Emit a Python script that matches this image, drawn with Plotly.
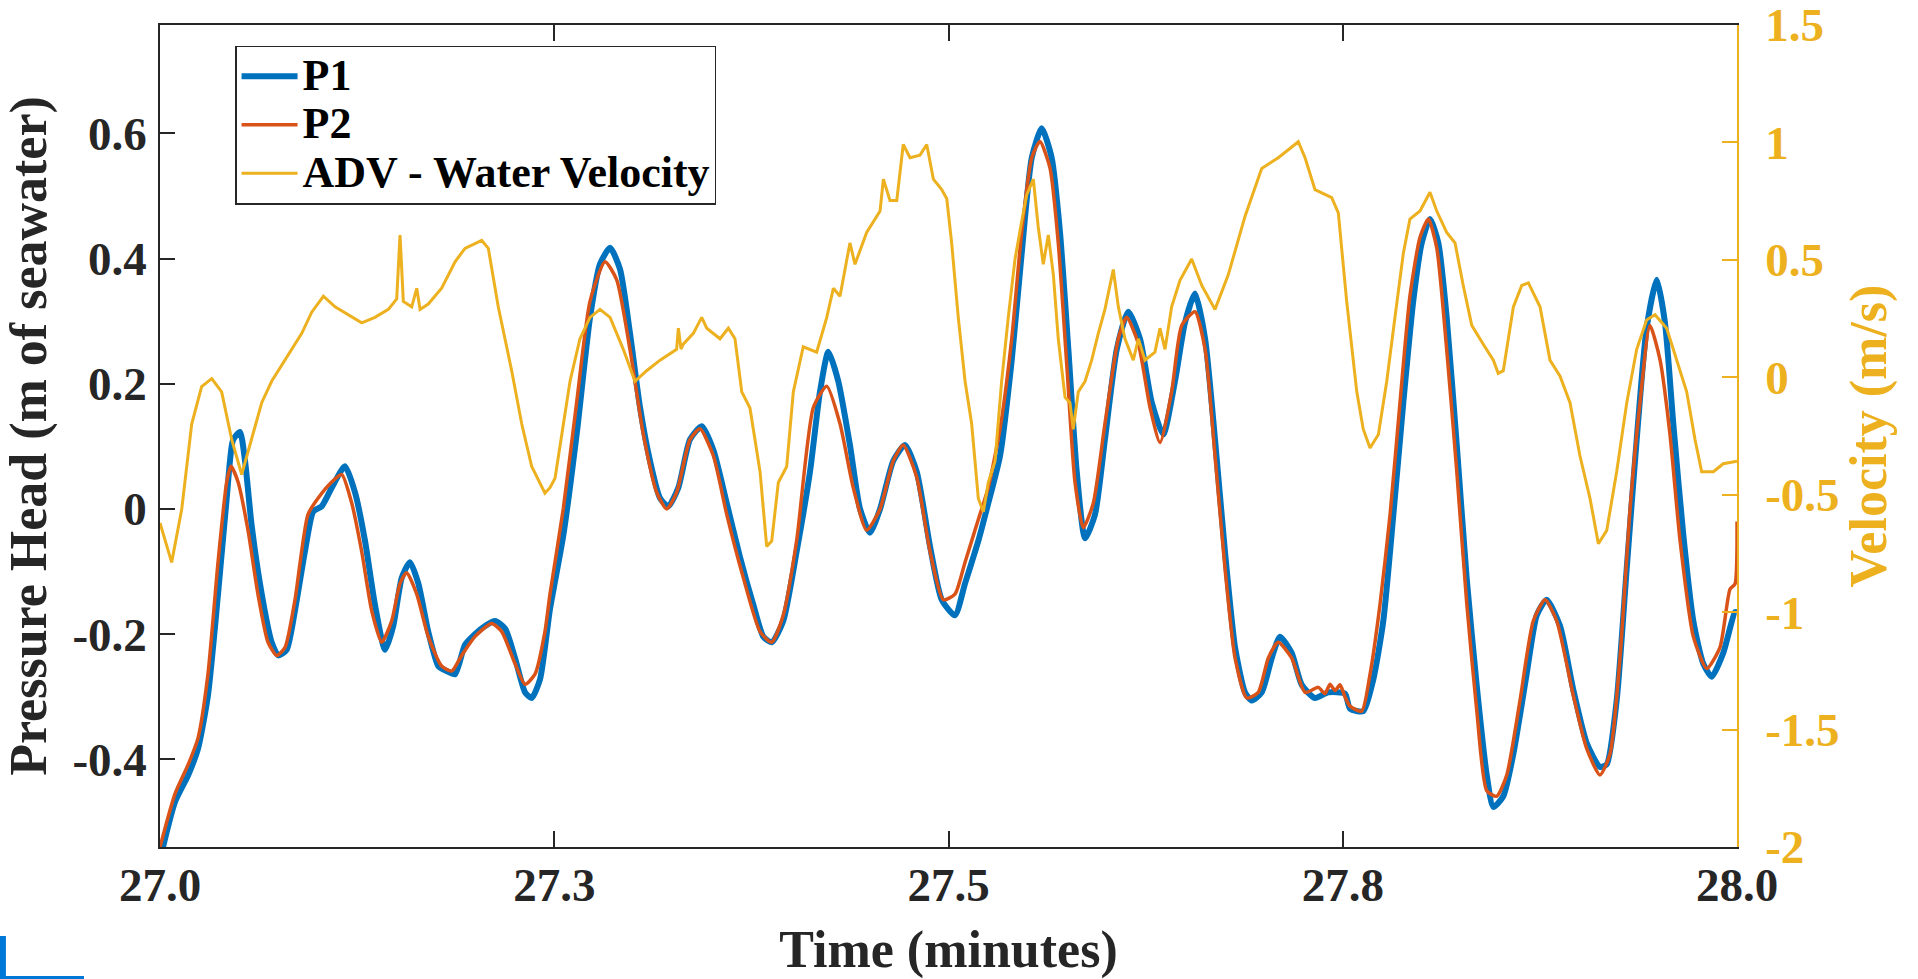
import plotly.graph_objects as go

# ---------------- data ----------------
t_p1 = [27.0000, 27.0095, 27.0179, 27.0241, 27.0304, 27.0368, 27.0423, 27.0463, 27.0507, 27.0539,
        27.0581, 27.0645, 27.0708, 27.0750, 27.0803, 27.0856, 27.0919, 27.0972, 27.1025, 27.1089,
        27.1173, 27.1237, 27.1300, 27.1363, 27.1427, 27.1479, 27.1533, 27.1585, 27.1638, 27.1701,
        27.1765, 27.1818, 27.1871, 27.1934, 27.1997, 27.2061, 27.2124, 27.2188, 27.2251, 27.2315,
        27.2357, 27.2410,
        27.2473, 27.2557, 27.2642, 27.2727, 27.2790, 27.2854, 27.2917, 27.2980, 27.3044, 27.3107,
        27.3171, 27.3223, 27.3287, 27.3361, 27.3435, 27.3509, 27.3594, 27.3678, 27.3762, 27.3826,
        27.3879, 27.3952, 27.4037, 27.4122, 27.4185, 27.4238, 27.4301, 27.4375, 27.4439, 27.4502,
        27.4566, 27.4650, 27.4724, 27.4798, 27.4883, 27.4957,
        27.5041, 27.5105, 27.5189, 27.5252, 27.5327, 27.5401, 27.5464, 27.5528, 27.5591, 27.5654,
        27.5707, 27.5760, 27.5813, 27.5866, 27.5929, 27.5992, 27.6067, 27.6140, 27.6214, 27.6289,
        27.6362, 27.6436, 27.6500, 27.6563, 27.6627, 27.6690, 27.6753, 27.6817, 27.6880, 27.6923,
        27.6986, 27.7050, 27.7102, 27.7176, 27.7240, 27.7324, 27.7408,
        27.7514, 27.7546, 27.7630, 27.7694, 27.7757, 27.7821, 27.7884, 27.7947, 27.8001, 27.8053,
        27.8106, 27.8159, 27.8223, 27.8286, 27.8349, 27.8413, 27.8455, 27.8518, 27.8582, 27.8666,
        27.8730, 27.8793, 27.8878, 27.8962, 27.9047, 27.9131, 27.9174, 27.9237, 27.9301, 27.9364,
        27.9427, 27.9491, 27.9543, 27.9596, 27.9660, 27.9723, 27.9786, 27.9840, 27.9913, 27.9987,
        28.0000]
p1 = [-0.56, -0.468, -0.425, -0.383, -0.298, -0.136, 0.017, 0.11, 0.123, 0.077,
      -0.026, -0.136, -0.213, -0.234, -0.225, -0.162, -0.068, -0.004, 0.004, 0.034,
      0.068, 0.026, -0.051, -0.153, -0.225, -0.187, -0.11, -0.085, -0.119, -0.196,
      -0.251, -0.259, -0.264, -0.217, -0.2, -0.187, -0.179, -0.191, -0.238, -0.293,
      -0.302, -0.272,
      -0.16, -0.043, 0.119, 0.306, 0.391, 0.417, 0.383, 0.281, 0.162, 0.077,
      0.017, 0.004, 0.034, 0.111, 0.132, 0.094, 0.009, -0.077, -0.153, -0.204,
      -0.213, -0.179, -0.068, 0.06, 0.187, 0.251, 0.204, 0.102, 0.0, -0.038,
      0.0, 0.077, 0.102, 0.06, -0.06, -0.145,
      -0.17, -0.119, -0.051, 0.009, 0.085, 0.238, 0.408, 0.561, 0.608, 0.561,
      0.442, 0.255, 0.06, -0.047, -0.009, 0.111, 0.255, 0.315, 0.272, 0.17,
      0.119, 0.204, 0.298, 0.344, 0.272, 0.111, -0.068, -0.221, -0.293, -0.306,
      -0.293, -0.238, -0.204, -0.23, -0.281, -0.302, -0.293,
      -0.295, -0.319, -0.323, -0.272, -0.179, -0.009, 0.17, 0.332, 0.425, 0.463,
      0.425, 0.306, 0.102, -0.111, -0.281, -0.425, -0.476, -0.459, -0.391, -0.264,
      -0.17, -0.145, -0.187, -0.289, -0.374, -0.412, -0.408, -0.306, -0.094, 0.111,
      0.289, 0.366, 0.298, 0.136, -0.043, -0.179, -0.247, -0.268, -0.23, -0.165,
      -0.165]

t_p2 = [27.0000, 27.0095, 27.0179, 27.0241, 27.0304, 27.0368, 27.0423, 27.0450, 27.0495, 27.0558,
        27.0621, 27.0685, 27.0740, 27.0793, 27.0856, 27.0938, 27.1002, 27.1089, 27.1152, 27.1216,
        27.1279, 27.1342, 27.1406, 27.1469, 27.1522, 27.1564, 27.1628, 27.1701, 27.1786, 27.1850,
        27.1913, 27.1997, 27.2103, 27.2167, 27.2251, 27.2315, 27.2378, 27.2441,
        27.2473, 27.2557, 27.2642, 27.2727, 27.2822, 27.2896, 27.2980, 27.3065, 27.3150, 27.3213,
        27.3276, 27.3361, 27.3424, 27.3509, 27.3594, 27.3699, 27.3805, 27.3879, 27.3952, 27.4037,
        27.4143, 27.4228, 27.4312, 27.4396, 27.4481, 27.4566, 27.4650, 27.4713, 27.4798, 27.4883,
        27.4967,
        27.5041, 27.5105, 27.5189, 27.5252, 27.5327, 27.5401, 27.5464, 27.5528, 27.5580, 27.5644,
        27.5696, 27.5750, 27.5802, 27.5855, 27.5918, 27.5992, 27.6077, 27.6130, 27.6204, 27.6278,
        27.6341, 27.6415, 27.6479, 27.6563, 27.6627, 27.6690, 27.6753, 27.6817, 27.6891, 27.6964,
        27.7028, 27.7091, 27.7176, 27.7261, 27.7345, 27.7387, 27.7419, 27.7451, 27.7483, 27.7514,
        27.7546, 27.7620, 27.7673, 27.7736, 27.7800, 27.7863, 27.7926, 27.7990, 27.8043, 27.8096,
        27.8159, 27.8223, 27.8286, 27.8349, 27.8413, 27.8476, 27.8540, 27.8624, 27.8708, 27.8783,
        27.8857, 27.8962, 27.9047, 27.9131, 27.9195, 27.9258, 27.9322, 27.9385, 27.9448, 27.9512,
        27.9575, 27.9639, 27.9723, 27.9808, 27.9892, 27.9956, 27.9987, 28.0000]
p2 = [-0.54, -0.455, -0.408, -0.366, -0.264, -0.085, 0.043, 0.068, 0.043, -0.034,
      -0.136, -0.213, -0.234, -0.221, -0.145, -0.009, 0.017, 0.043, 0.055, 0.009,
      -0.068, -0.162, -0.213, -0.179, -0.119, -0.102, -0.136, -0.204, -0.251, -0.259,
      -0.234, -0.204, -0.183, -0.196, -0.247, -0.28, -0.264, -0.196,
      -0.136, 0.0, 0.17, 0.332, 0.395, 0.366, 0.255, 0.119, 0.026, 0.0,
      0.026, 0.111, 0.128, 0.085, -0.009, -0.11, -0.196, -0.213, -0.17, -0.051,
      0.162, 0.196, 0.136, 0.034, -0.034, 0.0, 0.077, 0.102, 0.051, -0.068,
      -0.145,
      -0.136, -0.085, -0.017, 0.034, 0.128, 0.272, 0.442, 0.561, 0.587, 0.544,
      0.425, 0.23, 0.043, -0.03, 0.009, 0.136, 0.272, 0.306, 0.264, 0.162,
      0.106, 0.187, 0.293, 0.315, 0.255, 0.085, -0.094, -0.238, -0.302, -0.293,
      -0.238, -0.213, -0.238, -0.293, -0.285, -0.295, -0.28, -0.29, -0.281, -0.30,
      -0.315, -0.323, -0.264, -0.153, -0.009, 0.17, 0.34, 0.434, 0.463, 0.417,
      0.255, 0.06, -0.15, -0.32, -0.45, -0.459, -0.425, -0.306, -0.179, -0.145,
      -0.179, -0.298, -0.383, -0.425, -0.391, -0.238, 0.0, 0.17, 0.293, 0.238,
      0.119, -0.051, -0.204, -0.255, -0.221, -0.128, -0.12, -0.02]

t_vel = [27.0000, 27.0074, 27.0138, 27.0201, 27.0264, 27.0328, 27.0391, 27.0455, 27.0518, 27.0581,
         27.0645, 27.0708, 27.0772, 27.0835, 27.0899, 27.0962, 27.1036, 27.1110, 27.1194, 27.1279,
         27.1363, 27.1448, 27.1501, 27.1522, 27.1543, 27.1596, 27.1628, 27.1649, 27.1701, 27.1786,
         27.1871, 27.1934, 27.2040, 27.2082, 27.2145, 27.2230, 27.2294, 27.2357, 27.2441, 27.2473,
         27.2505, 27.2536, 27.2600, 27.2663, 27.2727, 27.2790, 27.2854, 27.2938, 27.3012, 27.3086,
         27.3171, 27.3276, 27.3287, 27.3304, 27.3318, 27.3382, 27.3435, 27.3467, 27.3551, 27.3604,
         27.3646, 27.3689, 27.3741, 27.3805, 27.3847, 27.3879, 27.3921, 27.3974, 27.4016, 27.4079,
         27.4164, 27.4228, 27.4270, 27.4312, 27.4375, 27.4407, 27.4481, 27.4566, 27.4587, 27.4629,
         27.4672, 27.4713, 27.4756, 27.4819, 27.4862, 27.4904, 27.4957, 27.4989, 27.5020, 27.5062,
         27.5105, 27.5147, 27.5189, 27.5221, 27.5252, 27.5295, 27.5337, 27.5379, 27.5422, 27.5464,
         27.5496, 27.5538, 27.5569, 27.5601, 27.5633, 27.5665, 27.5696, 27.5739, 27.5770, 27.5791,
         27.5823, 27.5866, 27.5908, 27.5950, 27.5992, 27.6045, 27.6077, 27.6119, 27.6172, 27.6204,
         27.6246, 27.6309, 27.6341, 27.6373, 27.6415, 27.6468, 27.6542, 27.6606, 27.6690, 27.6774,
         27.6880, 27.6986, 27.7091, 27.7155, 27.7218, 27.7261, 27.7324, 27.7430, 27.7472, 27.7525,
         27.7589, 27.7630, 27.7673, 27.7726, 27.7779, 27.7831, 27.7884, 27.7926, 27.7990, 27.8053,
         27.8096, 27.8159, 27.8212, 27.8264, 27.8318, 27.8391, 27.8455, 27.8486, 27.8518, 27.8582,
         27.8635, 27.8677, 27.8751, 27.8814, 27.8878, 27.8941, 27.9004, 27.9068, 27.9121, 27.9174,
         27.9237, 27.9301, 27.9364, 27.9427, 27.9480, 27.9554, 27.9618, 27.9681, 27.9734, 27.9776,
         27.9850, 27.9913, 28.0000]
vel = [-0.62, -0.788, -0.561, -0.199, -0.04, -0.006, -0.062, -0.266, -0.414, -0.266,
       -0.108, -0.017, 0.051, 0.119, 0.187, 0.277, 0.345, 0.3, 0.266, 0.232,
       0.255, 0.289, 0.334, 0.606, 0.323, 0.3, 0.379, 0.289, 0.312, 0.379,
       0.492, 0.549, 0.583, 0.549, 0.3, 0.028, -0.199, -0.38, -0.493, -0.47,
       -0.43, -0.289, -0.017, 0.164, 0.255, 0.289, 0.255, 0.119, -0.017, 0.028,
       0.073, 0.119, 0.209, 0.12, 0.141, 0.187, 0.255, 0.209, 0.164, 0.209,
       0.164, -0.062, -0.131, -0.402, -0.72, -0.697, -0.448, -0.38, -0.062, 0.13,
       0.107, 0.255, 0.379, 0.345, 0.572, 0.481, 0.617, 0.708, 0.844, 0.753,
       0.753, 0.991, 0.935, 0.946, 0.991, 0.844, 0.799, 0.76, 0.572, 0.255,
       -0.017, -0.199, -0.516, -0.573, -0.448, -0.357, -0.017, 0.255, 0.504, 0.663,
       0.776, 0.844, 0.64, 0.481, 0.606, 0.436, 0.164, -0.085, -0.108, -0.221,
       -0.062, -0.017, 0.073, 0.187, 0.289, 0.459, 0.3, 0.164, 0.073, 0.164,
       0.073, 0.107, 0.209, 0.119, 0.3, 0.413, 0.504, 0.391, 0.289, 0.436,
       0.685, 0.889, 0.935, 0.969, 1.003, 0.935, 0.799, 0.765, 0.70, 0.323,
       -0.062, -0.221, -0.301, -0.244, -0.017, 0.255, 0.527, 0.674, 0.708, 0.788,
       0.708, 0.617, 0.572, 0.391, 0.221, 0.141, 0.073, 0.017, 0.028, 0.3,
       0.391, 0.402, 0.3, 0.073, 0.005, -0.108, -0.334, -0.516, -0.709, -0.652,
       -0.402, -0.108, 0.119, 0.244, 0.266, 0.209, 0.073, -0.062, -0.266, -0.402,
       -0.402, -0.368, -0.357]

x_tickvals = [27.0, 27.25, 27.5, 27.75, 28.0]
x_ticktext = ["27.0", "27.3", "27.5", "27.8", "28.0"]
y_tickvals = [-0.4, -0.2, 0.0, 0.2, 0.4, 0.6]
y_ticktext = ["-0.4", "-0.2", "0", "0.2", "0.4", "0.6"]
y2_tickvals = [-2, -1.5, -1, -0.5, 0, 0.5, 1, 1.5]
y2_ticktext = ["-2", "-1.5", "-1", "-0.5", "0", "0.5", "1", "1.5"]
series_names = ["P1", "P2", "ADV - Water Velocity"]

# ---------------- styling ----------------
BLUE = "#0072BD"
RED = "#D95319"
GOLD = "#EDB120"
AX = "#262626"
FAM = "Liberation Serif"
TICK_SIZE = 47
TITLE_SIZE = 52
LEG_ROW_SIZE = 35      # sets legend row spacing
LEG_TEXT_PX = 44       # visible legend text size


def leg(name):
    return '<span style="font-size:%dpx">%s</span>' % (LEG_TEXT_PX, name)


fig = go.Figure()
fig.add_trace(go.Scatter(x=t_p1, y=p1, name=leg(series_names[0]), mode="lines",
                         line=dict(color=BLUE, width=6, shape="spline", smoothing=0.6)))
fig.add_trace(go.Scatter(x=t_p2, y=p2, name=leg(series_names[1]), mode="lines",
                         line=dict(color=RED, width=3.5, shape="spline", smoothing=0.6)))
fig.add_trace(go.Scatter(x=t_vel, y=vel, name=leg(series_names[2]), mode="lines",
                         yaxis="y2", line=dict(color=GOLD, width=3)))

fig.update_layout(
    width=1918, height=979, autosize=False,
    margin=dict(l=160, r=181, t=25, b=132, autoexpand=False),
    paper_bgcolor="white", plot_bgcolor="white",
    font=dict(family=FAM, weight="bold", color=AX),
    showlegend=True,
    legend=dict(x=0.0476, y=0.975, xanchor="left", yanchor="top",
                bgcolor="white", bordercolor=AX, borderwidth=1.5,
                font=dict(family=FAM, size=LEG_ROW_SIZE, weight="bold", color="black"),
                itemwidth=56, tracegroupgap=0),
    xaxis=dict(range=[27, 28], tickvals=x_tickvals, ticktext=x_ticktext, automargin=False,
               ticks="inside", ticklen=16, tickwidth=1.5, tickcolor=AX,
               showline=True, linecolor=AX, linewidth=1.5, mirror="ticks",
               showgrid=False, zeroline=False, ticklabelstandoff=-4,
               tickfont=dict(family=FAM, size=TICK_SIZE, weight="bold", color=AX),
               title=dict(text="Time (minutes)", standoff=21,
                          font=dict(family=FAM, size=TITLE_SIZE, weight="bold", color=AX))),
    yaxis=dict(range=[-0.54, 0.773], tickvals=y_tickvals, ticktext=y_ticktext, automargin=False,
               ticks="inside", ticklen=15, tickwidth=1.5, tickcolor=AX,
               showline=True, linecolor=AX, linewidth=1.5, mirror=False,
               showgrid=False, zeroline=False, ticklabelstandoff=2,
               tickfont=dict(family=FAM, size=TICK_SIZE, weight="bold", color=AX),
               title=dict(text="Pressure Head (m of seawater)", standoff=15,
                          font=dict(family=FAM, size=TITLE_SIZE, weight="bold", color=AX))),
    yaxis2=dict(overlaying="y", side="right", range=[-2, 1.5], automargin=False,
                tickvals=y2_tickvals, ticktext=y2_ticktext,
                ticks="inside", ticklen=15, tickwidth=1.5, tickcolor=GOLD,
                showline=True, linecolor=GOLD, linewidth=1.5,
                showgrid=False, zeroline=False, ticklabelstandoff=17,
                ticklabeloverflow="allow",
                tickfont=dict(family=FAM, size=TICK_SIZE, weight="bold", color=GOLD),
                title=dict(text="Velocity (m/s)", standoff=3,
                           font=dict(family=FAM, size=TITLE_SIZE, weight="bold", color=GOLD))),
    shapes=[
        dict(type="rect", xref="paper", yref="paper", x0=-0.1015, x1=-0.0977,
             y0=-0.1606, y1=-0.1083, fillcolor="#0078D7", line=dict(width=0), layer="above"),
        dict(type="rect", xref="paper", yref="paper", x0=-0.1015, x1=-0.0482,
             y0=-0.1606, y1=-0.1570, fillcolor="#0078D7", line=dict(width=0), layer="above"),
    ],
)

fig.write_html("out.html",
               config={"displayModeBar": False},
               post_script="document.body.style.margin='0';document.body.style.overflow='hidden';")
